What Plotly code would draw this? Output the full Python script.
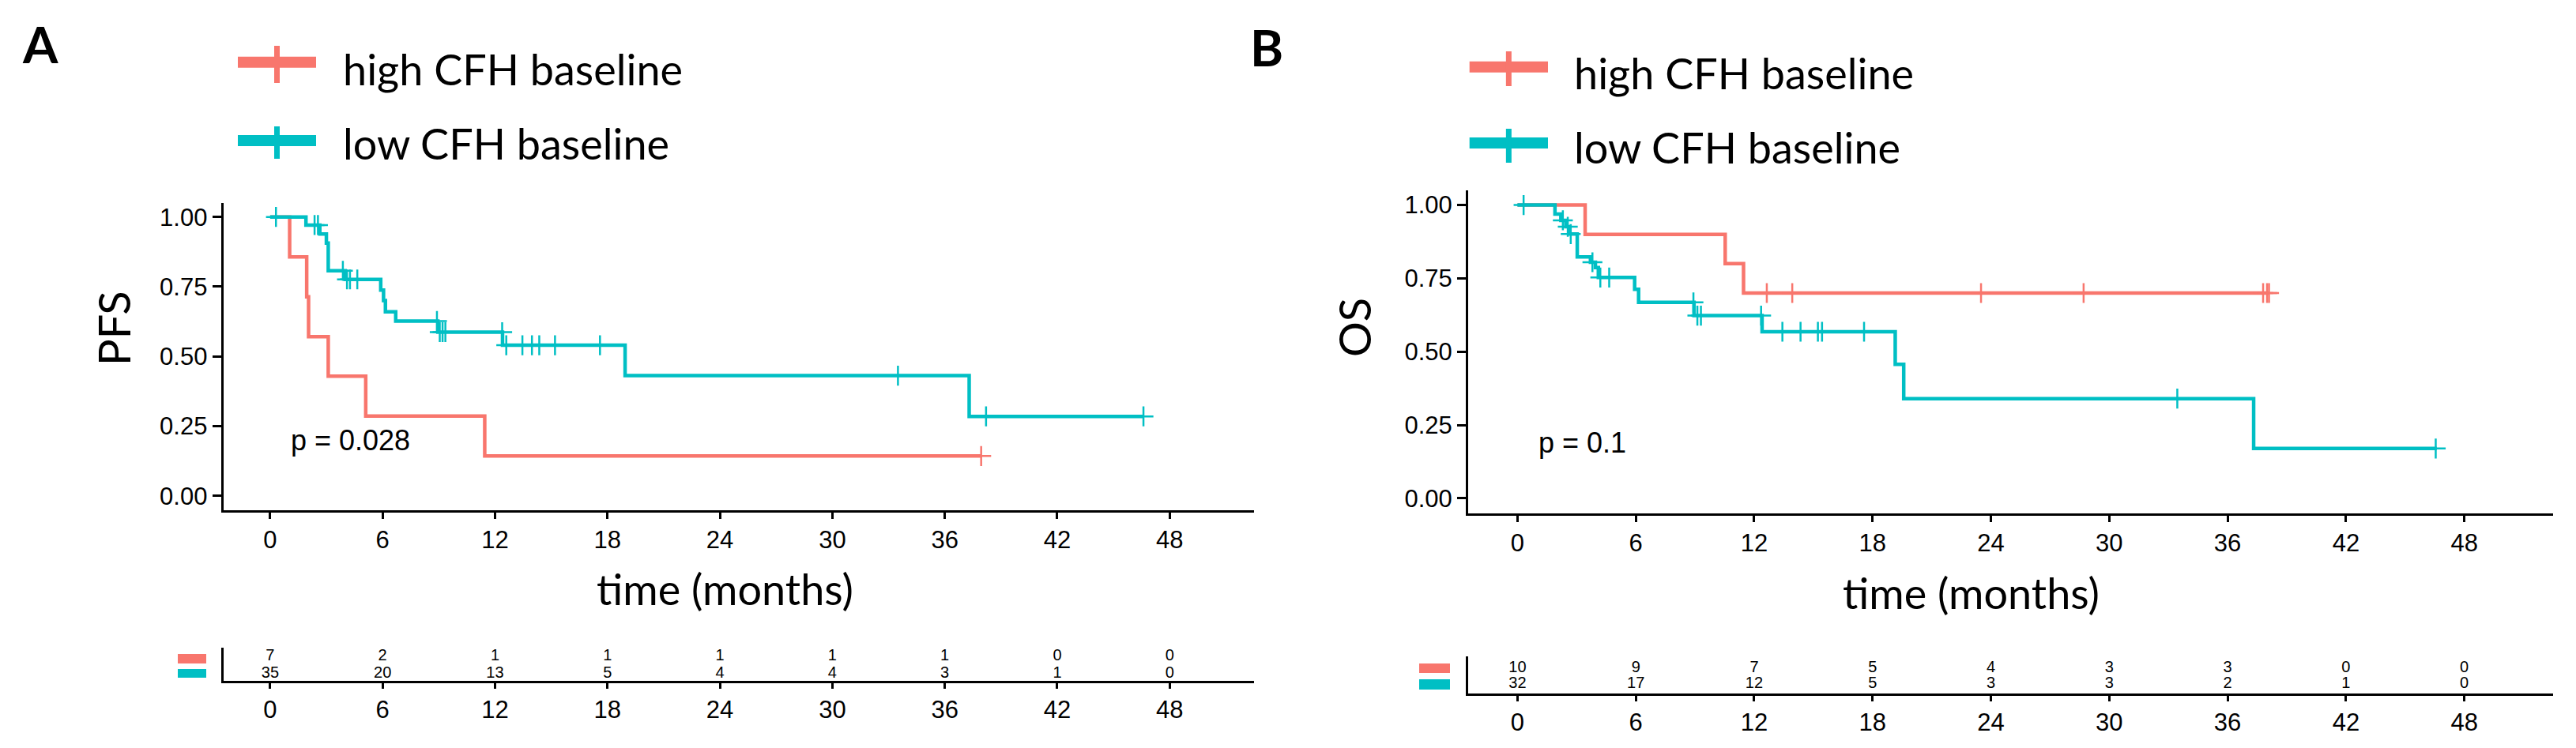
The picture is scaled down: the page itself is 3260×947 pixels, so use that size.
import plotly.graph_objects as go
import numpy as np

W, H = 3260, 947
RED = "#F8766D"
TEAL = "#00BFC4"
TICK_FONT = "Liberation Sans, Arial, sans-serif"
TITLE_FONT = "Lato, Calibri, sans-serif"

# ---- panel A: PFS, step points (months, survival) ----
pfs_high_t = [0, 1.04, 1.95, 2.05, 3.1, 5.1, 11.45, 37.94]
pfs_high_s = [1, 0.857, 0.714, 0.571, 0.429, 0.286, 0.143, 0.143]
pfs_high_cens = [37.94]

pfs_low_t = [0, 1.91, 2.65, 3.0, 3.1, 4.0, 5.9, 6.05, 6.15, 6.7, 8.95, 12.4, 18.94, 37.3, 46.6]
pfs_low_s = [1, 0.971, 0.939, 0.906, 0.807, 0.776, 0.738, 0.70, 0.66, 0.627, 0.587, 0.540, 0.431, 0.285, 0.285]
pfs_low_cens = [0.31, 2.37, 2.55, 3.88, 4.1, 4.26, 4.65, 8.9, 9.05, 9.2, 9.35, 12.38, 12.6,
                13.46, 13.97, 14.36, 15.2, 17.6, 33.5, 38.2, 46.6]

# ---- panel B: OS ----
os_high_t = [0, 3.43, 10.53, 11.46, 38.1]
os_high_s = [1, 0.9, 0.8, 0.7, 0.7]
os_high_cens = [12.64, 13.93, 23.5, 28.7, 37.8, 38.0, 38.1]

os_low_t = [0, 1.9, 2.2, 2.45, 2.62, 3.03, 3.7, 3.95, 4.1, 5.94, 6.14, 8.95, 12.4, 19.15, 19.58, 37.32, 46.6]
os_low_s = [1, 0.969, 0.948, 0.926, 0.901, 0.823, 0.805, 0.787, 0.753, 0.713, 0.668, 0.623, 0.568,
            0.457, 0.340, 0.170, 0.170]
os_low_cens = [0.31, 2.3, 2.55, 2.7, 3.8, 4.2, 4.65, 8.92, 9.12, 9.3, 12.35, 13.43, 14.35, 15.23,
               15.44, 17.57, 33.45, 46.55]

# ---- numbers at risk ----
risk_times = [0, 6, 12, 18, 24, 30, 36, 42, 48]
pfs_risk_high = [7, 2, 1, 1, 1, 1, 1, 0, 0]
pfs_risk_low = [35, 20, 13, 5, 4, 4, 3, 1, 0]
os_risk_high = [10, 9, 7, 5, 4, 3, 3, 0, 0]
os_risk_low = [32, 17, 12, 5, 3, 3, 2, 1, 0]

x_ticks = [0, 6, 12, 18, 24, 30, 36, 42, 48]
y_ticks = [0, 0.25, 0.5, 0.75, 1.0]
y_ticktext = ["0.00", "0.25", "0.50", "0.75", "1.00"]
legend_labels = ["high CFH baseline", "low CFH baseline"]


def px(x):
    return x / W


def py(y):
    return 1 - y / H


def step_at(times, surv, t):
    i = np.searchsorted(times, t, side="right") - 1
    return surv[i]


fig = go.Figure()


def add_km(times, surv, cens, color, xa, ya):
    fig.add_trace(go.Scatter(x=times, y=surv, mode="lines", line=dict(color=color, width=4.5, shape="hv"),
                             xaxis=xa, yaxis=ya, hoverinfo="skip"))
    cy = [step_at(times, surv, c) for c in cens]
    fig.add_trace(go.Scatter(x=cens, y=cy, mode="markers",
                             marker=dict(symbol="cross-thin", size=18, line=dict(color=color, width=2.5)),
                             xaxis=xa, yaxis=ya, hoverinfo="skip"))


add_km(pfs_high_t, pfs_high_s, pfs_high_cens, RED, "x", "y")
add_km(pfs_low_t, pfs_low_s, pfs_low_cens, TEAL, "x", "y")
add_km(os_high_t, os_high_s, os_high_cens, RED, "x2", "y2")
add_km(os_low_t, os_low_s, os_low_cens, TEAL, "x2", "y2")

# risk tables
for xa, ya, hi, lo in [("x3", "y3", pfs_risk_high, pfs_risk_low), ("x4", "y4", os_risk_high, os_risk_low)]:
    fig.add_trace(go.Scatter(x=risk_times, y=[1] * len(hi), text=[str(v) for v in hi], mode="text",
                             textfont=dict(family=TICK_FONT, size=20, color="black"), xaxis=xa, yaxis=ya))
    fig.add_trace(go.Scatter(x=risk_times, y=[0] * len(lo), text=[str(v) for v in lo], mode="text",
                             textfont=dict(family=TICK_FONT, size=20, color="black"), xaxis=xa, yaxis=ya))

axis_common = dict(showline=True, linecolor="black", linewidth=3, ticks="outside", tickcolor="black",
                   tickwidth=3, showgrid=False, zeroline=False,
                   tickfont=dict(family=TICK_FONT, size=31, color="black"))

xdomA = [px(274.6), px(1579)]
xdomB = [px(1850), px(3223)]

fig.update_layout(
    width=W, height=H, autosize=False, showlegend=False,
    margin=dict(l=0, r=0, t=0, b=0),
    paper_bgcolor="white", plot_bgcolor="white",
    xaxis=dict(domain=xdomA, range=[-2.5, 52.5], tickvals=x_ticks, ticklen=8, anchor="y", **axis_common),
    yaxis=dict(domain=[py(637.5), py(249)], range=[-0.05, 1.05], tickvals=y_ticks, ticktext=y_ticktext,
               ticklen=11, anchor="x", **axis_common),
    xaxis2=dict(domain=xdomB, range=[-2.5, 52.5], tickvals=x_ticks, ticklen=8, anchor="y2", **axis_common),
    yaxis2=dict(domain=[py(641.5), py(233)], range=[-0.05, 1.05], tickvals=y_ticks, ticktext=y_ticktext,
                ticklen=11, anchor="x2", **axis_common),
    xaxis3=dict(domain=xdomA, range=[-2.5, 52.5], tickvals=x_ticks, ticklen=7, anchor="y3", **axis_common),
    yaxis3=dict(domain=[py(854), py(812)], range=[-0.41, 1.5], anchor="x3", showline=True, linecolor="black",
                linewidth=3, showticklabels=False, ticks="", showgrid=False, zeroline=False),
    xaxis4=dict(domain=xdomB, range=[-2.5, 52.5], tickvals=x_ticks, ticklen=7, anchor="y4", **axis_common),
    yaxis4=dict(domain=[py(870), py(823)], range=[-0.6, 1.75], anchor="x4", showline=True, linecolor="black",
                linewidth=3, showticklabels=False, ticks="", showgrid=False, zeroline=False),
)

shapes = []
annotations = []


def legend_block(x0, x1, xt, ys, tick_spans, text_ys):
    for (y, color, (t0, t1), ty, label) in zip(ys, [RED, TEAL], tick_spans, text_ys, legend_labels):
        shapes.append(dict(type="line", xref="paper", yref="paper", x0=px(x0), x1=px(x1), y0=py(y), y1=py(y),
                           line=dict(color=color, width=14)))
        xm = (x0 + x1) / 2
        shapes.append(dict(type="line", xref="paper", yref="paper", x0=px(xm), x1=px(xm), y0=py(t0), y1=py(t1),
                           line=dict(color=color, width=7)))
        annotations.append(dict(text=label, xref="paper", yref="paper", x=px(xt), y=py(ty), xanchor="left",
                                yanchor="middle", showarrow=False,
                                font=dict(family=TITLE_FONT, size=54, color="black")))


legend_block(293, 392, 423.6, [70.7, 170], [(50, 97), (152, 193)], [80, 174])
legend_block(1851.7, 1951, 1982.4, [76.7, 173], [(57, 101), (155, 198)], [84, 178])

# colour keys of the risk tables
for x0, x1, rows in [(217, 253, [(820, 832), (839, 850)]), (1788, 1827, [(832, 844), (852, 865)])]:
    for (y0, y1), color in zip(rows, [RED, TEAL]):
        shapes.append(dict(type="rect", xref="paper", yref="paper", x0=px(x0), x1=px(x1), y0=py(y1), y1=py(y0),
                           fillcolor=color, line=dict(width=0)))

# axis titles and panel letters
for text, x, y, angle in [("time (months)", 909, 737, 0), ("time (months)", 2486, 742, 0),
                          ("PFS", 135, 408, -90), ("OS", 1705, 407, -90)]:
    annotations.append(dict(text=text, xref="paper", yref="paper", x=px(x), y=py(y), xanchor="center",
                            yanchor="middle", showarrow=False, textangle=angle,
                            font=dict(family=TITLE_FONT, size=56 if angle else 54, color="black")))

for text, x, y in [("A", 43, 47), ("B", 1595, 51)]:
    annotations.append(dict(text="<b>%s</b>" % text, xref="paper", yref="paper", x=px(x), y=py(y),
                            xanchor="center", yanchor="middle", showarrow=False,
                            font=dict(family=TITLE_FONT, size=64, color="black")))

annotations.append(dict(text="p = 0.028", xref="x", yref="y", x=1.0, y=0.2, xanchor="left", yanchor="middle",
                        showarrow=False, font=dict(family=TICK_FONT, size=36, color="black")))
annotations.append(dict(text="p = 0.1", xref="x2", yref="y2", x=1.0, y=0.19, xanchor="left", yanchor="middle",
                        showarrow=False, font=dict(family=TICK_FONT, size=36, color="black")))

fig.update_layout(shapes=shapes, annotations=annotations)

fig.write_html("out.html")
